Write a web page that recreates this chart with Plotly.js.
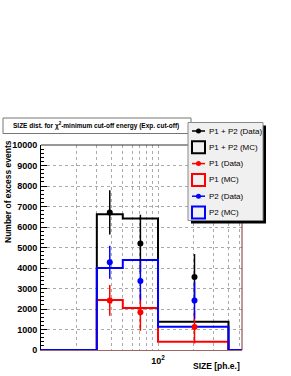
<!DOCTYPE html>
<html>
<head>
<meta charset="utf-8">
<script src="https://cdn.plot.ly/plotly-3.0.1.min.js"></script>
<style>html,body{margin:0;padding:0;background:#fff;}#chart{width:291px;height:376px;}</style>
</head>
<body>
<div id="chart"></div>
<script>
// ---- data ----
const binEdges = [30, 50, 100, 400];          // SIZE bin edges [ph.e.]
const mcTotal = [6620, 6420, 1380];           // P1 + P2 (MC)
const mcP1 = [2440, 2050, 400];               // P1 (MC)
const mcP2 = [4000, 4390, 1140];              // P2 (MC)
const dataX = [38.7, 70.7, 205];              // data point SIZE
const dataTotal = [6710, 5200, 3560];         // P1 + P2 (Data)
const dataTotalErr = [1080, 1400, 1120];
const dataP1 = [2420, 1840, 1120];            // P1 (Data)
const dataP1Err = [750, 900, 800];
const dataP2 = [4280, 3370, 2420];            // P2 (Data)
const dataP2Err = [800, 950, 900];
const xTickVals = [20,30,40,50,60,70,80,90,100,200,300,400,500];
const xTickText = ['','','','','','','','','10<sup>2</sup>','','','',''];

// ---- layout geometry ----
const W = 291, H = 376;
const mL = 41, mR = 49, mT = 145, mB = 26;
const xMin = 10, xMax = 522;
const pw = W - mL - mR, ph = H - mT - mB;
const px = p => (p - mL) / pw;
const py = p => (H - mB - p) / ph;

function stepTrace(vals, color, name) {
  const x = [xMin].concat(binEdges, [xMax]);
  const y = [0].concat(vals, [0, 0]);
  return {x: x, y: y, type: 'scatter', mode: 'lines', name: name,
    line: {shape: 'hv', color: color, width: 2}, cliponaxis: false, showlegend: false, hoverinfo: 'skip'};
}
function dataTrace(y, err, color, name) {
  return {x: dataX, y: y, type: 'scatter', mode: 'markers', name: name,
    marker: {color: color, size: 6, symbol: 'circle'},
    error_y: {type: 'data', array: err, visible: true, color: color, thickness: 1.5, width: 0},
    showlegend: false};
}

const traces = [
  stepTrace(mcTotal, '#000000', 'P1 + P2 (MC)'),
  stepTrace(mcP1, '#ff0000', 'P1 (MC)'),
  stepTrace(mcP2, '#0000ff', 'P2 (MC)'),
  dataTrace(dataTotal, dataTotalErr, '#000000', 'P1 + P2 (Data)'),
  dataTrace(dataP1, dataP1Err, '#ff0000', 'P1 (Data)'),
  dataTrace(dataP2, dataP2Err, '#0000ff', 'P2 (Data)')
];

const fontFam = '"Liberation Sans", Arial, Helvetica, sans-serif';
const shapes = [];
const annotations = [];

// frame: top and right borders
shapes.push({type:'line', xref:'paper', yref:'paper', x0:0, x1:1, y0:1, y1:1, line:{color:'#333', width:1}});
shapes.push({type:'line', xref:'paper', yref:'paper', x0:1, x1:1, y0:0, y1:1, line:{color:'#7a3535', width:1}});

// title box
shapes.push({type:'rect', xref:'paper', yref:'paper', x0:px(3), x1:px(191), y0:py(133.5), y1:py(118), line:{color:'#777', width:1}, fillcolor:'#ffffff'});
annotations.push({xref:'paper', yref:'paper', x:px(11), y:py(126), xanchor:'left', yanchor:'middle', showarrow:false,
  text:'SIZE dist. for χ<sup>2</sup>-minimum cut-off energy (Exp. cut-off)', font:{family:fontFam, size:6.5, color:'#000', weight:'bold'}});

// legend with shadow
const lgX0 = 188, lgX1 = 263, lgY0 = 122.5, lgY1 = 220.5;
shapes.push({type:'rect', xref:'paper', yref:'paper', x0:px(lgX0+3), x1:px(lgX1+3), y0:py(lgY1+3), y1:py(lgY0+3), line:{width:0}, fillcolor:'#000'});
shapes.push({type:'rect', xref:'paper', yref:'paper', x0:px(lgX0), x1:px(lgX1), y0:py(lgY1), y1:py(lgY0), line:{color:'#888', width:1}, fillcolor:'#f0f0f0'});
const legRows = [
  {name:'P1 + P2 (Data)', color:'#000000', kind:'data'},
  {name:'P1 + P2 (MC)', color:'#000000', kind:'mc'},
  {name:'P1 (Data)', color:'#ff0000', kind:'data'},
  {name:'P1 (MC)', color:'#ff0000', kind:'mc'},
  {name:'P2 (Data)', color:'#0000ff', kind:'data'},
  {name:'P2 (MC)', color:'#0000ff', kind:'mc'}
];
legRows.forEach((r, i) => {
  const cy = 131 + i * 16.3;
  if (r.kind === 'data') {
    shapes.push({type:'line', xref:'paper', yref:'paper', x0:px(192), x1:px(205), y0:py(cy), y1:py(cy), line:{color:r.color, width:1.5}});
    shapes.push({type:'circle', xref:'paper', yref:'paper', x0:px(196), x1:px(201), y0:py(cy+2.5), y1:py(cy-2.5), line:{color:r.color, width:0}, fillcolor:r.color});
  } else {
    shapes.push({type:'rect', xref:'paper', yref:'paper', x0:px(192), x1:px(205), y0:py(cy+6), y1:py(cy-6), line:{color:r.color, width:2}, fillcolor:'rgba(0,0,0,0)'});
  }
  annotations.push({xref:'paper', yref:'paper', x:px(207), y:py(cy), xanchor:'left', yanchor:'middle', showarrow:false,
    text:r.name, font:{family:fontFam, size:8, color:'#000'}});
});

// axis titles
annotations.push({xref:'paper', yref:'paper', x:px(8), y:py(192), xanchor:'center', yanchor:'middle', showarrow:false, textangle:-90,
  text:'Number of excess events', font:{family:fontFam, size:8.5, color:'#000', weight:'bold'}});
annotations.push({xref:'paper', yref:'paper', x:px(242), y:py(366), xanchor:'right', yanchor:'middle', showarrow:false,
  text:'SIZE [ph.e.]', font:{family:fontFam, size:8.5, color:'#000', weight:'bold'}});

const layout = {
  width: W, height: H,
  margin: {l: mL, r: mR, t: mT, b: mB, pad: 0},
  paper_bgcolor: '#ffffff', plot_bgcolor: '#ffffff',
  showlegend: false,
  font: {family: fontFam, color: '#000'},
  xaxis: {type: 'log', range: [Math.log10(xMin), Math.log10(xMax)], autorange: false,
    tickvals: xTickVals, ticktext: xTickText, tickangle: 0, ticks: '', showgrid: true,
    gridcolor: '#aaaaaa', griddash: 'dot', gridwidth: 1,
    showline: true, linecolor: '#a06565', linewidth: 1, zeroline: false,
    tickfont: {family: fontFam, size: 9, color: '#000', weight: 'bold'}, ticklabelstandoff: 2},
  yaxis: {range: [0, 10000], autorange: false, dtick: 1000, tick0: 0, tickformat: 'd',
    ticks: 'inside', ticklen: 6, tickcolor: '#000', tickwidth: 1,
    minor: {dtick: 200, ticks: 'inside', ticklen: 3, tickcolor: '#000', showgrid: false},
    showgrid: true, gridcolor: '#aaaaaa', griddash: 'dot', gridwidth: 1,
    showline: true, linecolor: '#000', linewidth: 1, zeroline: false,
    tickfont: {family: fontFam, size: 9, color: '#000', weight: 'bold'}, ticklabelstandoff: 1},
  shapes: shapes,
  annotations: annotations
};

Plotly.newPlot('chart', traces, layout, {staticPlot: true, displayModeBar: false});
</script>
</body>
</html>
